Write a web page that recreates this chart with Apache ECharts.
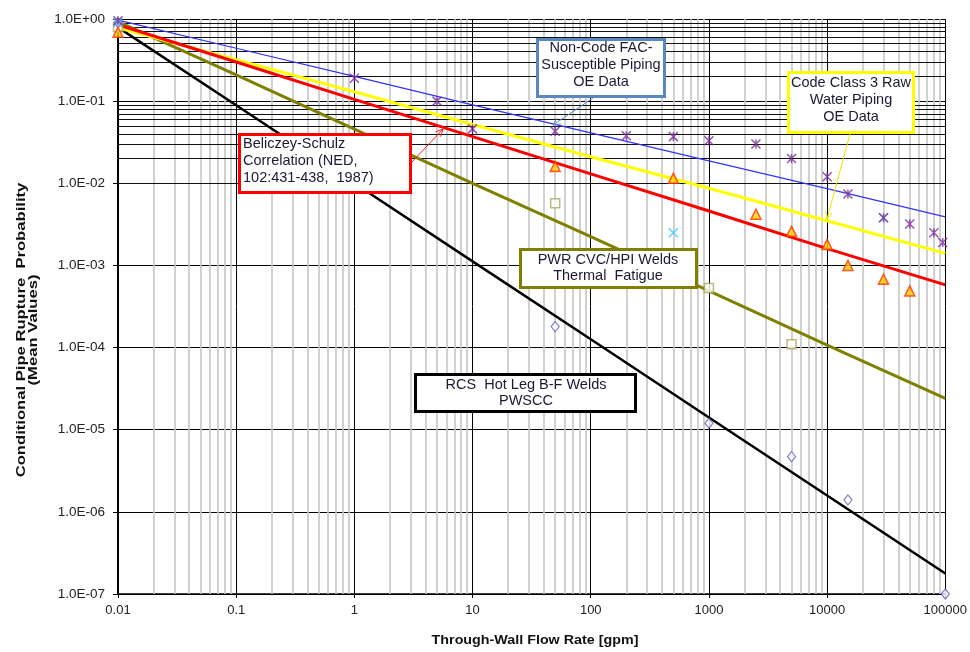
<!DOCTYPE html>
<html><head><meta charset="utf-8">
<script src="https://cdn.jsdelivr.net/npm/echarts@6/dist/echarts.min.js"></script>
<style>html,body{margin:0;padding:0;background:#fff}#c{width:970px;height:652px}</style>
</head><body><div id="c"></div>
<script>
// ---- axes ----
const xDecades = [0.01, 0.1, 1, 10, 100, 1000, 10000, 100000];
const xTickLabels = ['0.01', '0.1', '1', '10', '100', '1000', '10000', '100000'];
const yDecades = [1e-7, 1e-6, 1e-5, 1e-4, 1e-3, 1e-2, 1e-1, 1];
const yTickLabels = ['1.0E-07', '1.0E-06', '1.0E-05', '1.0E-04', '1.0E-03', '1.0E-02', '1.0E-01', '1.0E+00'];
const minorMultipliers = [2, 3, 4, 5, 6, 7, 8, 9];

// ---- trend lines (values read at each decade of xDecades) ----
const nonCodeFacLine     = [0.97, 0.44, 0.20, 0.090, 0.041, 0.0187, 0.0086, 0.0039];
const codeClass3Line     = [0.78, 0.32, 0.13, 0.052, 0.021, 0.0087, 0.0035, 0.0014];
const beliczeySchulzLine = [0.85, 0.30, 0.105, 0.037, 0.013, 0.0046, 0.0016, 0.00058];
const pwrCvcHpiLine      = [0.93, 0.209, 0.0457, 0.0100, 0.00224, 0.00049, 0.000107, 0.000024];
const rcsHotLegLine      = [0.79, 0.089, 0.0100, 0.00112, 0.000126, 0.0000141, 0.00000158, 0.000000178];

// ---- OE data points ----
const facDataX   = [0.01, 1, 5, 10, 50, 200, 500, 1000, 2500, 5000, 10000, 15000, 30000, 50000, 80000, 95000];
const facDataY   = [0.95, 0.19, 0.10, 0.046, 0.043, 0.038, 0.037, 0.033, 0.030, 0.020, 0.012, 0.0074, 0.0038, 0.0032, 0.0025, 0.0019];
const cyanDataX  = [0.01, 500, 30000];
const cyanDataY  = [0.90, 0.0025, 0.0038];
const rawWaterX  = [0.01, 50, 500, 2500, 5000, 10000, 15000, 30000, 50000];
const rawWaterY  = [0.69, 0.016, 0.0115, 0.0042, 0.0026, 0.0018, 0.0010, 0.00068, 0.00049];
const pwrDataX   = [0.01, 50, 1000, 5000];
const pwrDataY   = [0.80, 0.0057, 0.00053, 0.00011];
const rcsDataX   = [0.01, 50, 1000, 5000, 15000, 100000];
const rcsDataY   = [0.90, 0.00018, 0.000012, 0.0000047, 0.0000014, 0.0000001];

const FONT = 'Liberation Sans, Arial, sans-serif';
const chart = echarts.init(document.getElementById('c'));

function pairs(xs, ys) { return xs.map((x, i) => [x, ys[i]]); }

// grid lines
const gridMarks = [];
xDecades.slice(0, -1).forEach(d => minorMultipliers.forEach(m => {
  gridMarks.push({ xAxis: d * m, lineStyle: { color: '#c6c6c6', width: 1.6, type: 'solid' } });
}));
yDecades.slice(0, -1).forEach(d => minorMultipliers.forEach(m => {
  gridMarks.push({ yAxis: d * m, lineStyle: { color: '#111', width: 1, type: 'solid' } });
}));

function lineSeries(name, arr, color, width, z) {
  return { type: 'line', name, data: pairs(xDecades, arr), symbol: 'none', showSymbol: false,
    lineStyle: { color, width }, z, silent: true, animation: false };
}
function scatterSeries(name, xs, ys, symbol, size, itemStyle) {
  return { type: 'scatter', name, data: pairs(xs, ys), symbol, symbolSize: size,
    itemStyle, z: 6, silent: true, animation: false };
}

const ASTERISK = 'path://M0,0L10,10M10,0L0,10M5,0L5,10';
const XMARK = 'path://M0,0L10,10M10,0L0,10';

// arrow helper (pixel coords)
function arrow(x1, y1, x2, y2, color) {
  const a = Math.atan2(y2 - y1, x2 - x1), L = 8, w = 0.45;
  return [
    { type: 'polyline', z: 100, shape: { points: [[x1, y1], [x2, y2]] }, style: { stroke: color, lineWidth: 1, fill: null } },
    { type: 'polyline', z: 100, shape: { points: [
        [x2 - L * Math.cos(a - w), y2 - L * Math.sin(a - w)], [x2, y2],
        [x2 - L * Math.cos(a + w), y2 - L * Math.sin(a + w)]] },
      style: { stroke: color, lineWidth: 1, fill: null } }
  ];
}
function box(x, y, w, h, color, text, tx, ty, align) {
  return [
    { type: 'rect', z: 100, shape: { x, y, width: w, height: h }, style: { fill: '#fff', stroke: color, lineWidth: 3 } },
    { type: 'text', z: 101, x: tx, y: ty, style: { text, fill: '#1a1a33', fontSize: 14.5, fontFamily: FONT,
      align: align || 'center', verticalAlign: 'middle', lineHeight: 16.8 } }
  ];
}

const graphics = [].concat(
  arrow(593, 98, 553, 125, '#5a87c0'),
  arrow(850, 134, 827, 219, '#e8e800'),
  arrow(412, 162, 443, 129, '#ff2020'),
  box(537.5, 39.5, 127, 57, '#5a87c0', 'Non-Code FAC-\nSusceptible Piping\nOE Data', 601, 65),
  box(788.5, 72.5, 125, 60, '#ffff00', 'Code Class 3 Raw\nWater Piping\nOE Data', 851, 100),
  box(239.5, 134.5, 171, 58, '#ff0000', 'Beliczey-Schulz\nCorrelation (NED,\n102:431-438,  1987)', 243, 161, 'left'),
  box(520.5, 249.5, 176, 38, '#808000', 'PWR CVC/HPI Welds\nThermal  Fatigue', 608, 268),
  box(415.5, 374.5, 220, 37, '#000000', 'RCS  Hot Leg B-F Welds\nPWSCC', 526, 393),
  [
    { type: 'text', z: 101, x: 28, y: 330, rotation: Math.PI / 2, scaleX: 1.33, scaleY: 1,
      style: { text: 'Conditional Pipe Rupture  Probability\n(Mean Values)', fill: '#111', fontSize: 12.5,
        fontWeight: 'bold', fontFamily: FONT, align: 'center', verticalAlign: 'middle', lineHeight: 12 } },
    { type: 'text', z: 101, x: 535, y: 640, scaleX: 1.1,
      style: { text: 'Through-Wall Flow Rate [gpm]', fill: '#111', fontSize: 13,
        fontWeight: 'bold', fontFamily: FONT, align: 'center', verticalAlign: 'middle' } }
  ]
);

const option = {
  animation: false,
  backgroundColor: '#fff',
  grid: { left: 118, right: 24, top: 19, bottom: 58, containLabel: false },
  xAxis: {
    type: 'log', logBase: 10, min: 0.01, max: 100000, interval: 1,
    axisLine: { show: true, lineStyle: { color: '#000', width: 1.5 } },
    axisTick: { show: true, length: 4, lineStyle: { color: '#000' } },
    axisLabel: { color: '#222', fontSize: 13, fontFamily: FONT, margin: 10,
      formatter: v => xTickLabels[Math.round(Math.log10(v)) + 2] },
    splitLine: { show: true, lineStyle: { color: '#000', width: 1 } }
  },
  yAxis: {
    type: 'log', logBase: 10, min: 1e-7, max: 1, interval: 1,
    axisLine: { show: true, lineStyle: { color: '#000', width: 2 } },
    axisTick: { show: true, length: 5, lineStyle: { color: '#000' } },
    axisLabel: { color: '#222', fontSize: 13.5, fontFamily: FONT, margin: 13,
      formatter: v => yTickLabels[Math.round(Math.log10(v)) + 7] },
    splitLine: { show: true, lineStyle: { color: '#000', width: 1 } }
  },
  graphic: graphics,
  series: [
    { type: 'line', name: 'grid', data: [[0.01, 1]], symbol: 'none', showSymbol: false,
      lineStyle: { opacity: 0 }, z: 1, silent: true,
      markLine: { z: 1, silent: true, symbol: ['none', 'none'], label: { show: false }, animation: false,
        lineStyle: { type: 'solid' }, emphasis: { disabled: true }, data: gridMarks } },
    lineSeries('PWR CVC/HPI Welds', pwrCvcHpiLine, '#808000', 3, 3),
    lineSeries('RCS Hot Leg B-F Welds', rcsHotLegLine, '#000000', 2.5, 3),
    lineSeries('Code Class 3 Raw Water', codeClass3Line, '#ffff00', 3, 3),
    lineSeries('Beliczey-Schulz', beliczeySchulzLine, '#ff0000', 3, 3),
    lineSeries('Non-Code FAC', nonCodeFacLine, '#3333ff', 1.2, 3),
    scatterSeries('PWR data', pwrDataX, pwrDataY, 'rect', 9, { color: '#fff', borderColor: '#a8a860', borderWidth: 1.5 }),
    scatterSeries('RCS data', rcsDataX, rcsDataY, 'diamond', [8, 10], { color: '#fff', borderColor: '#5a5ac0', borderWidth: 1.2 }),
    scatterSeries('Raw water data', rawWaterX, rawWaterY, 'triangle', 10, { color: '#ffcc00', borderColor: '#ff3300', borderWidth: 1.5 }),
    scatterSeries('Cyan data', cyanDataX, cyanDataY, XMARK, 9, { color: 'none', borderColor: '#33ccff', borderWidth: 1.5 }),
    scatterSeries('FAC data', facDataX, facDataY, ASTERISK, 9, { color: 'none', borderColor: '#7a2a9a', borderWidth: 1.5 })
  ]
};
chart.setOption(option);
</script>
</body></html>
